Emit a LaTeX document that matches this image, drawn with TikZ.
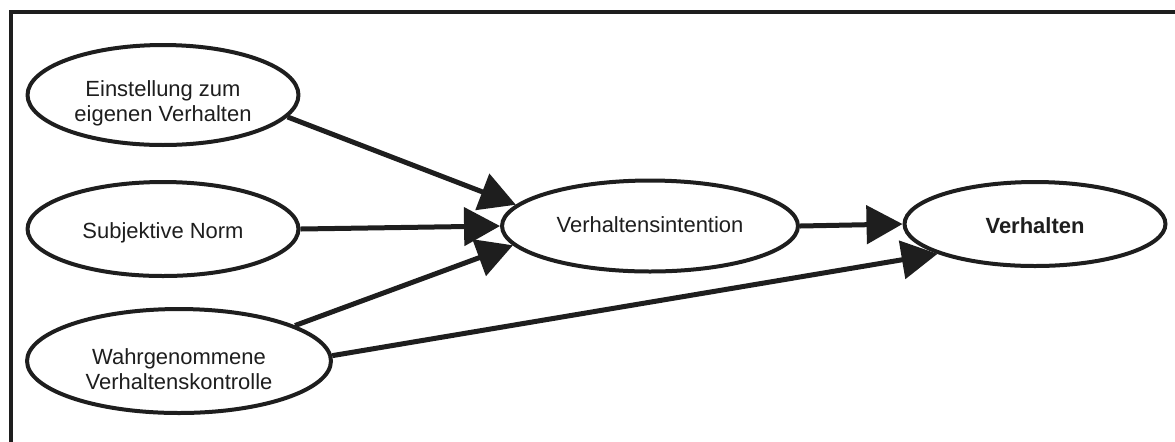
\documentclass[tikz,border=0pt]{standalone}
\usepackage{fontspec}
\setmainfont{Liberation Sans}
\usetikzlibrary{arrows.meta,shapes.geometric}
\definecolor{ink}{RGB}{30,30,30}
\begin{document}
\begin{tikzpicture}[x=0.02cm,y=-0.02cm,
  oval/.style={ellipse,draw=ink,line width=0.08cm,inner sep=0pt,fill=white},
  label text/.style={text=ink,align=center,inner sep=0pt,font=\fontsize{12.5}{14.4}\selectfont},
  conn/.style={draw=ink,line width=0.1cm,-{Triangle[length=0.72cm,width=0.76cm]}}]
  \useasboundingbox (0,0) rectangle (1175,441);
  % frame (only top and left edges fall inside the page)
  \draw[ink,line width=0.08cm,line join=miter] (1180,12) -- (11,12) -- (11,446);

  % ovals
  \node[oval,minimum width=5.42cm,minimum height=2.0cm]  (ein)  at (163,95)  {};
  \node[oval,minimum width=5.42cm,minimum height=1.88cm] (sub)  at (163,229) {};
  \node[oval,minimum width=6.08cm,minimum height=2.08cm] (wahr) at (179,361) {};
  \node[oval,minimum width=5.92cm,minimum height=1.82cm] (vi)   at (650,226) {};
  \node[oval,minimum width=5.22cm,minimum height=1.68cm] (vh)   at (1035,224) {};

  % texts
  \node[label text] (einT)  at (163,103) {Einstellung zum\\eigenen Verhalten};
  \node[label text] (subT)  at (163,233) {Subjektive Norm};
  \node[label text] (wahrT) at (179,369) {Wahrgenommene\\Verhaltenskontrolle};
  \node[label text] (viT)   at (650,225) {Verhaltensintention};
  \node[label text,font=\fontsize{12.5}{14.4}\selectfont\bfseries] (vhT) at (1035,226) {Verhalten};

  % connectors
  \draw[conn] (ein.-10) -- (vi.171);
  \draw[conn] (sub.east) -- (vi.west);
  \draw[conn] (wahr.17) -- (vi.188);
  \draw[conn] (vi.east) -- (vh.west);
  \draw[conn] (wahr.2) -- (vh.197);
\end{tikzpicture}
\end{document}
